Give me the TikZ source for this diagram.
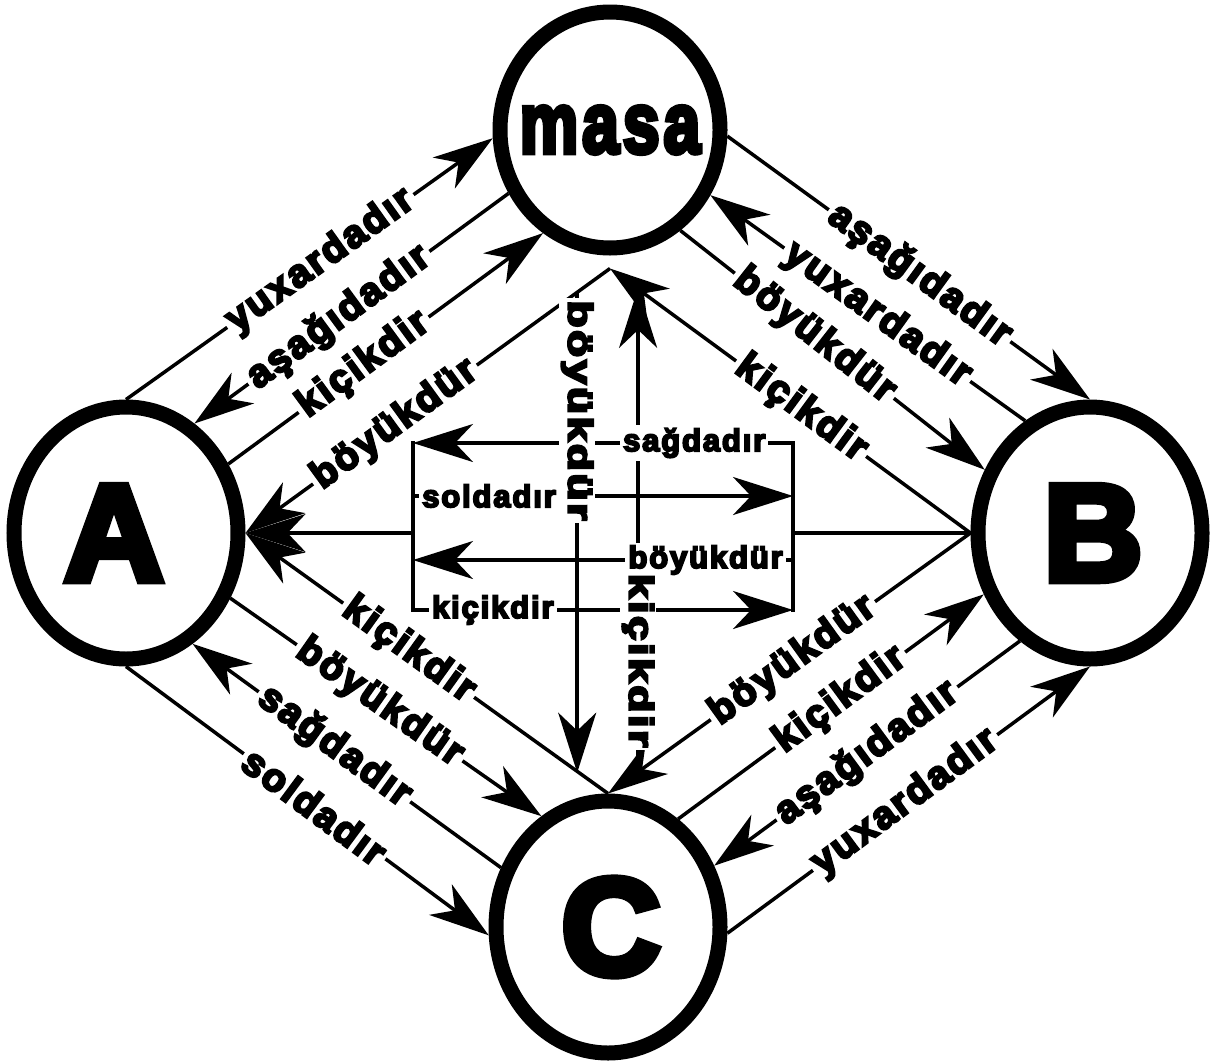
\documentclass[tikz,border=0pt]{standalone}
\usepackage{fontspec}
\usepackage{tikz}
\usetikzlibrary{shapes.geometric, arrows.meta}
\newfontfamily\heavyfont{Liberation Sans Bold}[FakeBold=6, LetterSpace=6]
\tikzstyle{durum} = [ellipse, draw=black, line width=15pt, minimum width=224pt, minimum height=252pt, inner sep=0pt, fill=white]
\tikzstyle{harf} = [font=\heavyfont\fontsize{137}{137}\selectfont]
\tikzstyle{masayazi} = [yscale=1.3, font=\heavyfont\fontsize{66}{66}\selectfont]
\tikzstyle{yazi} = [sloped, fill=white, inner sep=4pt, font=\heavyfont\fontsize{39}{39}\selectfont]
\tikzstyle{kicikyazi} = [fill=white, inner sep=3pt, font=\heavyfont\fontsize{31}{31}\selectfont]
\tikzstyle{dikyazi} = [fill=white, inner sep=2pt, rotate=-90, xscale=1.3, font=\heavyfont\fontsize{34}{34}\selectfont]
\tikzstyle{arrow} = [line width=3.5pt,->,>={Stealth[length=60pt,width=38pt,inset=18pt]}]
\tikzstyle{bar} = [line width=3.5pt, line cap=rect]

\begin{document}
\begin{tikzpicture}[x=1pt, y=-1pt, node distance=402pt]
	\useasboundingbox (0,0) rectangle (1223,1061);
	\node (masa) [durum, minimum width=220pt, minimum height=236pt, label={[masayazi]center:masa}] at (610,130) {};
	\node (A) [durum, below of=masa, xshift=-484pt, yshift=-1pt, label={[harf, xshift=-12pt]center:A}] {};
	\node (B) [durum, below of=masa, xshift=480pt, yshift=-1pt, label={[harf, xshift=3pt]center:B}] {};
	\node (C) [durum, below of=masa, xshift=-2pt, yshift=-395pt, label={[harf, xshift=3pt]center:C}] {};
	\coordinate (mhub) at ([yshift=-13pt]masa.south);

	% A -- masa
	\draw [arrow] (A.north) -- node[yazi, pos=0.53] {yuxardadır} (masa.184);
	\draw [arrow] (masa.212) -- node[yazi, pos=0.54] {aşağıdadır} (A.58);
	\draw [arrow] (A.34) -- node[yazi, pos=0.43] {kiçikdir} (masa.237);
	\draw [arrow] (mhub) -- coordinate[pos=0.09] (vb1) node[yazi, pos=0.59] {böyükdür} (A.east);

	% masa -- B
	\draw [arrow] (masa.-3) -- node[yazi, pos=0.53] {aşağıdadır} (B.north);
	\draw [arrow] (B.120) -- node[yazi, pos=0.47] {yuxardadır} (masa.-33);
	\draw [arrow] (masa.-55) -- node[yazi, pos=0.44] {böyükdür} (B.149);
	\draw [arrow] (B.west) -- coordinate[pos=0.927] (vk2) node[yazi, pos=0.47] {kiçikdir} (mhub);

	% A -- C
	\draw [arrow] (C.north) -- coordinate[pos=0.08] (vb2) node[yazi, pos=0.55] {kiçikdir} (A.east);
	\draw [arrow] (A.-32) -- node[yazi, pos=0.48] {böyükdür} (C.121);
	\draw [arrow] (C.151) -- node[yazi, pos=0.54] {sağdadır} (A.-59);
	\draw [arrow] (A.south) -- node[yazi, pos=0.52] {soldadır} (C.184);

	% B -- C
	\draw [arrow] (B.west) -- coordinate[pos=0.917] (vk1) node[yazi, pos=0.49] {böyükdür} (C.north);
	\draw [arrow] (C.57) -- node[yazi, pos=0.53] {kiçikdir} (B.210);
	\draw [arrow] (B.237) -- node[yazi, pos=0.5] {aşağıdadır} (C.30);
	\draw [arrow] (C.-3) -- node[yazi, pos=0.49] {yuxardadır} (B.south);

	% C -- masa, line only (label later)
	\draw [arrow] (vk1) -- coordinate[pos=0.23] (vkl) (vk1 |- vk2);

	% middle frame
	\coordinate (l1) at (413,443);
	\coordinate (l2) at (413,496);
	\coordinate (l3) at (l1 |- A.east);
	\coordinate (l4) at (413,560);
	\coordinate (l5) at (413,610);
	\coordinate (r1) at (793,443);
	\coordinate (r2) at (793,496);
	\coordinate (r3) at (r1 |- B.west);
	\coordinate (r4) at (793,560);
	\coordinate (r5) at (793,610);
	\draw [bar] (l1) -- (l5);
	\draw [bar] (r1) -- (r5);
	\draw [arrow] (l3) -- (A.east);
	\draw [bar] (r3) -- (B.west);
	\draw [arrow] (r1) -- node[kicikyazi, pos=0.26] {sağdadır} (l1);
	\draw [arrow] (l2) -- node[kicikyazi, pos=0.2] {soldadır} (r2);
	\draw [arrow] (r4) -- node[kicikyazi, pos=0.23] {böyükdür} (l4);
	\draw [arrow] (l5) -- node[kicikyazi, pos=0.21] {kiçikdir} (r5);

	% masa -- C
	\draw [arrow] (vb1) -- node[dikyazi, pos=0.246] {böyükdür} (vb1 |- vb2);
	\node [dikyazi] at (vkl) {kiçikdir};
\end{tikzpicture}
\end{document}
